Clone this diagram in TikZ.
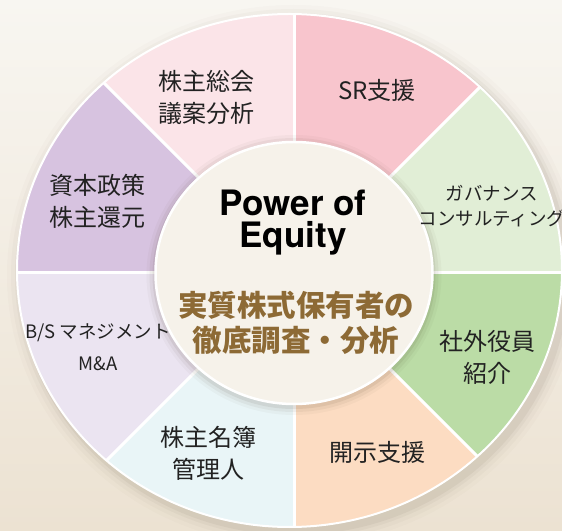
\documentclass[tikz,border=0pt]{standalone}
\usepackage{fontspec}
\setmainfont{TeX Gyre Heros}
\newfontfamily\jp{Noto Sans CJK JP}
\definecolor{bgtop}{HTML}{F8F6F1}
\definecolor{bgbot}{HTML}{ECE2D2}
\definecolor{ink}{HTML}{222222}
\definecolor{gold}{HTML}{8D6A35}
\definecolor{agm}{HTML}{FBE4E8}
\definecolor{sr}{HTML}{F8C5CD}
\definecolor{gov}{HTML}{E1EED6}
\definecolor{board}{HTML}{BBDCA6}
\definecolor{disc}{HTML}{FCDCC2}
\definecolor{reg}{HTML}{E9F5F7}
\definecolor{bs}{HTML}{EBE4F1}
\definecolor{capital}{HTML}{D7C3E0}
\definecolor{hubin}{HTML}{F6F2EA}
\definecolor{hubout}{HTML}{EEE6DA}
\definecolor{hubrim}{HTML}{DDD3C4}
\pgfdeclareradialshading{hub}{\pgfpoint{0bp}{0bp}}{color(0bp)=(hubin); color(30bp)=(hubin); color(45bp)=(hubout); color(50bp)=(hubrim)}
\begin{document}
\begin{tikzpicture}[x=1pt,y=1pt,
    item/.style={font=\jp\fontsize{24}{32}\selectfont, text=ink, align=center, inner sep=0pt},
    note/.style={font=\jp\fontsize{18.5}{25}\selectfont, text=ink, align=center, inner sep=0pt},
    title/.style={font=\bfseries\fontsize{35}{32}\selectfont, align=center, inner sep=0pt},
    lead/.style={font=\jp\bfseries\fontsize{29.5}{35}\selectfont, text=gold, align=center, inner sep=0pt}]
    \useasboundingbox (0,0) rectangle (562,530);
    \shade[top color=bgtop, bottom color=bgbot] (0,0) rectangle (562,530);
    \coordinate (o) at (294,257);
    \coordinate (rim) at (289.5,259.5);

    \foreach \d/\p in {14/.015, 10/.025, 6/.035, 3/.05}
        \fill[black!70!brown, opacity=\p] ([shift={(4,-5)}]rim) ellipse ({272.5+\d} and {256.5+\d});
    \begin{scope}
        \clip (rim) ellipse (272.5 and 256.5);
        \foreach \a/\c in {90/agm, 45/sr, 0/gov, -45/board, -90/disc, -135/reg, 180/bs, 135/capital}
            \fill[fill=\c] (o) -- +(\a:500) -- +(\a+45:500) -- cycle;
        \foreach \a in {0,45,...,315}
            \draw[white, line width=3] (o) -- +(\a:400);
    \end{scope}
    \draw[white, line width=2] (rim) ellipse (272.5 and 256.5);

    \foreach \d/\p in {9/.03, 6/.05, 3/.07}
        \fill[black!70!brown, opacity=\p] ([yshift=-2]o) ellipse ({138.5+\d} and {131+\d});
    \shadedraw[shading=hub, draw=white, line width=2.5] (o) ellipse (138.5 and 131);

    \node[item] (agm) at (206,433) {株主総会\\議案分析};
    \node[item] (sr) at (377,440) {SR支援};
    \node[note] (gov) at (492,324) {ガバナンス\\コンサルティング};
    \node[item] (board) at (487,173) {社外役員\\紹介};
    \node[item] (disc) at (377,78) {開示支援};
    \node[item] (reg) at (208,77) {株主名簿\\管理人};
    \node[note, font=\jp\fontsize{18.5}{32}\selectfont] (bs) at (98,183) {B/S マネジメント\\M\&A};
    \node[item] (cap) at (97,329) {資本政策\\株主還元};

    \node[title] (poe) at (293,307) {Power of\\Equity};
    \node[lead] (lead) at (296,207) {実質株式保有者の\\徹底調査・分析};
\end{tikzpicture}
\end{document}
